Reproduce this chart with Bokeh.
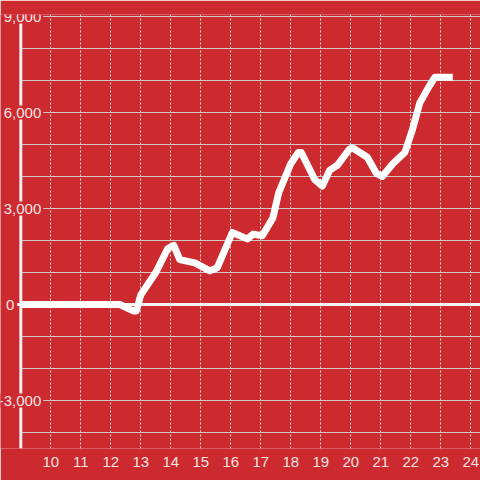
from bokeh.plotting import figure
from bokeh.models import FixedTicker, Range1d, ColumnDataSource
from bokeh.core.properties import value
from bokeh.embed import file_html
from bokeh.resources import INLINE

# ---- data ----
hours = [9.0, 12.3, 12.75, 12.85, 13.0, 13.5, 13.9, 14.1, 14.3, 14.8, 15.3, 15.55,
         16.05, 16.55, 16.75, 17.05, 17.4, 17.6, 18.0, 18.25, 18.35, 18.8, 19.05,
         19.3, 19.55, 19.95, 20.05, 20.55, 20.85, 21.05, 21.4, 21.8, 22.05, 22.3,
         22.6, 22.8, 23.4]
pnl = [0, 0, -200, -200, 300, 1000, 1750, 1850, 1400, 1300, 1050, 1150,
       2250, 2050, 2200, 2150, 2700, 3500, 4400, 4750, 4750, 3900, 3700,
       4200, 4350, 4850, 4900, 4600, 4100, 4000, 4400, 4750, 5450, 6300,
       6800, 7100, 7100]
x_ticks = list(range(10, 25))
y_label_values = [-3000, 0, 3000, 6000, 9000]
y_labels = ["-3,000", "0", "3,000", "6,000", "9,000"]
grid_values = list(range(-4000, 10000, 1000))

# ---- style ----
BG = "#cc2a2f"
LABEL = "#f3e3e3"
FONT = "Liberation Sans"
AXIS_X = 9.0
X_START, X_END = 8.3233, 24.3233
Y_START, Y_END = -4500, 9062.5

p = figure(width=480, height=480, output_backend="svg", toolbar_location=None,
           x_range=Range1d(X_START, X_END), y_range=Range1d(Y_START, Y_END),
           y_axis_location=None,
           min_border_left=0, min_border_right=0, min_border_top=14, min_border_bottom=32,
           background_fill_color=BG, border_fill_color=BG, outline_line_color=None)

p.ygrid.grid_line_color = None
p.xgrid.ticker = FixedTicker(ticks=x_ticks)
p.xgrid.grid_line_color = "#e8e0e0"
p.xgrid.grid_line_dash = "2 2"
p.xgrid.grid_line_width = 1

ax = p.xaxis[0]
ax.ticker = FixedTicker(ticks=x_ticks)
ax.axis_line_color = None
ax.major_tick_line_color = None
ax.minor_tick_line_color = None
ax.major_label_text_font = FONT
ax.major_label_text_font_size = "15px"
ax.major_label_text_color = LABEL
ax.major_label_standoff = 2

# horizontal grid lines starting at the axis
p.segment(x0=[AXIS_X] * len(grid_values), x1=[X_END] * len(grid_values),
          y0=grid_values, y1=grid_values, line_color="#d2c8c8", line_width=1)

# vertical axis line
p.segment(x0=[AXIS_X], x1=[AXIS_X], y0=[Y_START], y1=[Y_END],
          line_color="#eeeeee", line_width=3)

# zero line
p.segment(x0=[AXIS_X - 0.12], x1=[X_END], y0=[0], y1=[0],
          line_color="#f4f4f4", line_width=3)

# data line
p.line(hours, pnl, line_color="white", line_width=7, line_join="round")

# y labels with background covering the axis
src = ColumnDataSource(dict(
    x=[AXIS_X] * len(y_label_values),
    y=y_label_values,
    text=y_labels,
    xo=[22.5 if v != 0 else -4.5 for v in y_label_values],
))
p.text(x="x", y="y", text="text", x_offset="xo", source=src,
       text_align="right", text_baseline="middle",
       text_font=value(FONT), text_font_size="15px", text_color=LABEL,
       background_fill_color=BG, padding=2)

html = file_html(p, INLINE)
open("out.html", "w").write(html)
